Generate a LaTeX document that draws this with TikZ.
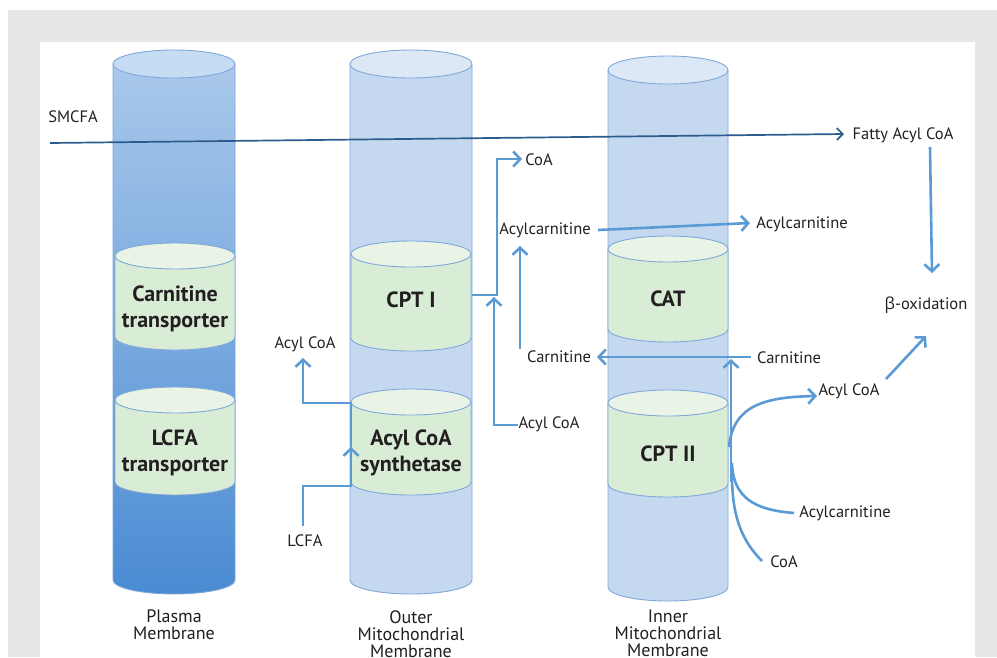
\documentclass[tikz,border=0pt]{standalone}
\usepackage{fontspec}
\setmainfont{PT Sans}
\newfontfamily\grk{Open Sans}
\usetikzlibrary{arrows.meta}
\definecolor{bggray}{HTML}{E6E7E8}
\definecolor{colbody}{HTML}{C4D9F0}
\definecolor{coltop}{HTML}{DCE8F6}
\definecolor{colline}{HTML}{7FA8D8}
\definecolor{plasmatop}{HTML}{A9C8EB}
\definecolor{plasmabot}{HTML}{4A8BD3}
\definecolor{plasmaell}{HTML}{C6DCF3}
\definecolor{enzbody}{HTML}{D9EDD6}
\definecolor{enztop}{HTML}{E9F4E7}
\definecolor{arrowblue}{HTML}{5B9BD5}
\definecolor{darkblue}{HTML}{2C5C8E}
\definecolor{txt}{HTML}{231F20}
\newcommand{\mycyl}[7]{% xc, hw, ytop, ybot, ry, body style, top fill
  \path[#6] (#1-#2,#3) -- (#1-#2,#4) arc[start angle=180,end angle=0,x radius=#2,y radius=#5] -- (#1+#2,#3) -- cycle;
  \draw[colline,line width=0.9pt] (#1-#2,#3) -- (#1-#2,#4) arc[start angle=180,end angle=0,x radius=#2,y radius=#5] -- (#1+#2,#3);
  \filldraw[colline,line width=0.9pt,fill=#7] (#1,#3) ellipse [x radius=#2,y radius=#5];
}
\tikzset{
  lbl/.style={font=\fontsize{16.5}{19}\selectfont,inner sep=0pt,text=txt},
  enz/.style={font=\fontsize{22}{26}\selectfont\bfseries,align=center,inner sep=0pt,text=txt},
  mem/.style={font=\fontsize{18}{17}\selectfont,align=center,inner sep=0pt,text=txt,anchor=north},
  conn/.style={draw=arrowblue,line width=2.6pt,line join=miter},
  arr/.style={conn,-{Straight Barb[length=7pt,width=15pt,line width=2.6pt]}},
}
\begin{document}
\begin{tikzpicture}[x=1pt,y=-1pt]
\useasboundingbox (0,0) rectangle (997,657);
\fill[white] (0,0) rectangle (997,657);
\fill[bggray] (8,10) rectangle (997,657);
\fill[white] (40,42) rectangle (975,660);

% membranes
\mycyl{174}{61}{64}{580}{14}{top color=plasmatop,bottom color=plasmabot}{plasmaell}
\mycyl{411}{61}{64}{580}{14}{fill=colbody}{coltop}
\mycyl{668}{60}{70}{587}{14}{fill=colbody}{coltop}

% enzymes
\mycyl{175}{60}{256}{337}{13}{fill=enzbody}{enztop}
\mycyl{175}{60}{400}{482}{13}{fill=enzbody}{enztop}
\mycyl{411}{60}{254}{338}{13}{fill=enzbody}{enztop}
\mycyl{411}{60}{402}{482}{13}{fill=enzbody}{enztop}
\mycyl{668}{60}{249}{329}{13}{fill=enzbody}{enztop}
\mycyl{668}{60}{403}{484}{13}{fill=enzbody}{enztop}

\node[enz] (ct) at (175,309) {Carnitine\\transporter};
\node[enz] (lt) at (175,453) {LCFA\\transporter};
\node[enz] (cpt1) at (411,300) {CPT I};
\node[enz] (acs) at (411,453) {Acyl CoA\\synthetase};
\node[enz] (cat) at (668,299) {CAT};
\node[enz] (cpt2) at (668,454) {CPT II};

% membrane labels
\node[mem] (pm) at (174,610) {Plasma\\Membrane};
\node[mem] (om) at (411,610) {Outer\\Mitochondrial\\Membrane};
\node[mem] (im) at (668,610) {Inner\\Mitochondrial\\Membrane};

% small labels
\node[lbl] (smcfa) at (73,117) {SMCFA};
\node[lbl] (fatty) at (903,135) {Fatty Acyl CoA};
\node[lbl] (beta) at (926,305) {{\grk β}-oxidation};
\node[lbl] (coa1) at (539,160) {CoA};
\node[lbl] (acl) at (545,230) {Acylcarnitine};
\node[lbl] (acr) at (802,224) {Acylcarnitine};
\node[lbl] (acoaL) at (305,344) {Acyl CoA};
\node[lbl] (carm) at (559,357) {Carnitine};
\node[lbl] (carr) at (789,358) {Carnitine};
\node[lbl] (acoaM) at (549,424) {Acyl CoA};
\node[lbl] (acoaR) at (849,391) {Acyl CoA};
\node[lbl] (lcfa) at (305,541) {LCFA};
\node[lbl] (acb) at (845,513) {Acylcarnitine};
\node[lbl] (coab) at (784,562) {CoA};

% coordinates
\coordinate (sm0) at (50,143);
\coordinate (sm1) at (844,134);
\coordinate (fa0) at (930,147);
\coordinate (fa1) at (932,273);
\coordinate (cp1e) at (472,295);
\coordinate (up1) at (497,295);
\coordinate (up2) at (497,159);
\coordinate (coatip) at (522,159);
\coordinate (am0) at (518,425);
\coordinate (am1) at (494,425);
\coordinate (am2) at (494,297);
\coordinate (cm0) at (520,349);
\coordinate (cm1) at (520,246);
\coordinate (ac0) at (598,230);
\coordinate (ac1) at (750,223);
\coordinate (cr0) at (751,357);
\coordinate (cr1) at (597,357);
\coordinate (lc0) at (303,526);
\coordinate (lc1) at (303,486);
\coordinate (lc2) at (351,486);
\coordinate (lc3) at (351,447);
\coordinate (ao0) at (351,403);
\coordinate (ao1) at (303,403);
\coordinate (ao2) at (303,358);
\coordinate (c2a) at (729,447);
\coordinate (c2b) at (817,396);
\coordinate (cv0) at (731,482);
\coordinate (cv1) at (731,359);
\coordinate (ab0) at (794,513);
\coordinate (ab1) at (732,463);
\coordinate (cb0) at (762,561);
\coordinate (cb1) at (732,475);
\coordinate (bo0) at (886,379);
\coordinate (bo1) at (926,336);

% connectors
\draw[darkblue,line width=1.7pt,-{Straight Barb[length=6pt,width=12pt,line width=1.7pt]}] (sm0) -- (sm1);
\draw[arr] (fa0) -- (fa1);
\draw[arr] (cp1e) -- (up1) -- (up2) -- (coatip);
\draw[arr] (am0) -- (am1) -- (am2);
\draw[arr] (cm0) -- (cm1);
\draw[arr] (ac0) -- (ac1);
\draw[arr] (cr0) -- (cr1);
\draw[arr] (lc0) -- (lc1) -- (lc2) -- (lc3);
\draw[arr] (lc3) -- (ao0) -- (ao1) -- (ao2);
\draw[arr] (c2a) .. controls (733,405) and (765,397) .. (c2b);
\draw[arr] (cv0) -- (cv1);
\draw[conn] (ab0) .. controls (755,510) and (733,498) .. (ab1);
\draw[conn] (cb0) .. controls (741,540) and (732,515) .. (cb1);
\draw[arr] (bo0) -- (bo1);
\end{tikzpicture}
\end{document}
